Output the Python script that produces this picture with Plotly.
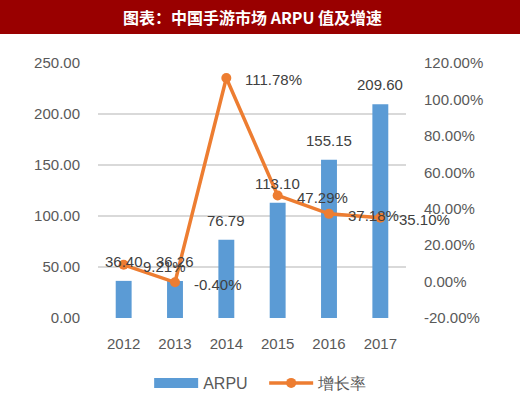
import plotly.graph_objects as go

years = ["2012", "2013", "2014", "2015", "2016", "2017"]
arpu = [36.40, 36.26, 76.79, 113.10, 155.15, 209.60]
growth = [9.21, -0.40, 111.78, 47.29, 37.18, 35.10]
arpu_labels = ["36.40", "36.26", "76.79", "113.10", "155.15", "209.60"]
growth_labels = ["9.21%", "-0.40%", "111.78%", "47.29%", "37.18%", "35.10%"]
left_ticks = [0, 50, 100, 150, 200, 250]
right_ticks = [-20, 0, 20, 40, 60, 80, 100, 120]

BLUE = "#5B9BD5"
ORANGE = "#ED7D31"
TXT = "#595959"
FONT = "Liberation Sans, Arial, sans-serif"
W, H = 520, 399
L, R, T, B = 98, 114, 63, 81
pw, ph = W - L - R, H - T - B

def px_x(p):
    return (p - L) / pw

def px_y(p):
    return (H - B - p) / ph

xpos = list(range(len(years)))

fig = go.Figure()
fig.add_trace(go.Bar(
    x=xpos, y=arpu, name="ARPU", marker=dict(color=BLUE, line=dict(width=0)),
    width=0.31, showlegend=False, yaxis="y",
))
# legend-only swatch: wide blue bar like the reference
fig.add_trace(go.Scatter(
    x=[None], y=[None], mode="lines", name="ARPU",
    line=dict(color=BLUE, width=10), yaxis="y", hoverinfo="skip",
))
fig.add_trace(go.Scatter(
    x=xpos, y=growth, name="增长率", mode="lines+markers", yaxis="y2",
    line=dict(color=ORANGE, width=3.5), marker=dict(color=ORANGE, size=10),
))

annotations = []
for x, v, t in zip(xpos, arpu, arpu_labels):
    annotations.append(dict(x=x, y=v, xref="x", yref="y", text=t, showarrow=False,
                            xanchor="center", yanchor="bottom", yshift=9,
                            font=dict(family=FONT, size=15, color="#404040")))
for x, v, t in zip(xpos, growth, growth_labels):
    annotations.append(dict(x=x, y=v, xref="x", yref="y2", text=t, showarrow=False,
                            xanchor="left", yanchor="middle", xshift=17, yshift=-2,
                            font=dict(family=FONT, size=15, color="#404040")))
annotations.append(dict(x=0.5, y=px_y(17), xref="paper", yref="paper",
                        text="<b>图表：中国手游市场 ARPU 值及增速</b>", showarrow=False,
                        xanchor="center", yanchor="middle",
                        font=dict(family="Noto Sans CJK SC", size=16, color="white")))

fig.update_layout(
    width=W, height=H,
    margin=dict(l=L, r=R, t=T, b=B, pad=0),
    paper_bgcolor="white", plot_bgcolor="white",
    font=dict(family=FONT, size=15, color=TXT),
    xaxis=dict(range=[-0.5, len(years) - 0.5], tickvals=xpos, ticktext=years,
               showgrid=False, showline=False, zeroline=False,
               ticks="outside", ticklen=12, tickcolor="rgba(0,0,0,0)",
               tickfont=dict(family=FONT, size=15, color=TXT)),
    yaxis=dict(range=[0, 250], tickvals=left_ticks, tickformat=".2f",
               showgrid=True, gridcolor="#D9D9D9", gridwidth=1.5,
               zeroline=False, showline=False,
               ticks="outside", ticklen=14, tickcolor="rgba(0,0,0,0)",
               tickfont=dict(family=FONT, size=15, color=TXT)),
    yaxis2=dict(range=[-20, 120], tickvals=right_ticks,
                ticktext=[f"{v:.2f}%" for v in right_ticks],
                overlaying="y", side="right", showgrid=False, zeroline=False,
                showline=False, ticks="outside", ticklen=14,
                tickcolor="rgba(0,0,0,0)",
                tickfont=dict(family=FONT, size=15, color=TXT)),
    legend=dict(orientation="h", x=0.508, xref="container", xanchor="center",
                y=(H - 383) / H, yref="container", yanchor="middle",
                itemwidth=44, entrywidth=56,
                font=dict(family=FONT, size=16, color=TXT),
                bgcolor="rgba(0,0,0,0)"),
    shapes=[dict(type="rect", xref="paper", yref="paper",
                 x0=px_x(0), x1=px_x(W), y0=px_y(34), y1=px_y(0),
                 fillcolor="#990000", line=dict(width=0), layer="below")],
    annotations=annotations,
    showlegend=True,
)

fig.write_html("out.html",
               config={"displayModeBar": False},
               post_script="document.body.style.margin='0';"
                           "document.documentElement.style.overflow='hidden';")
